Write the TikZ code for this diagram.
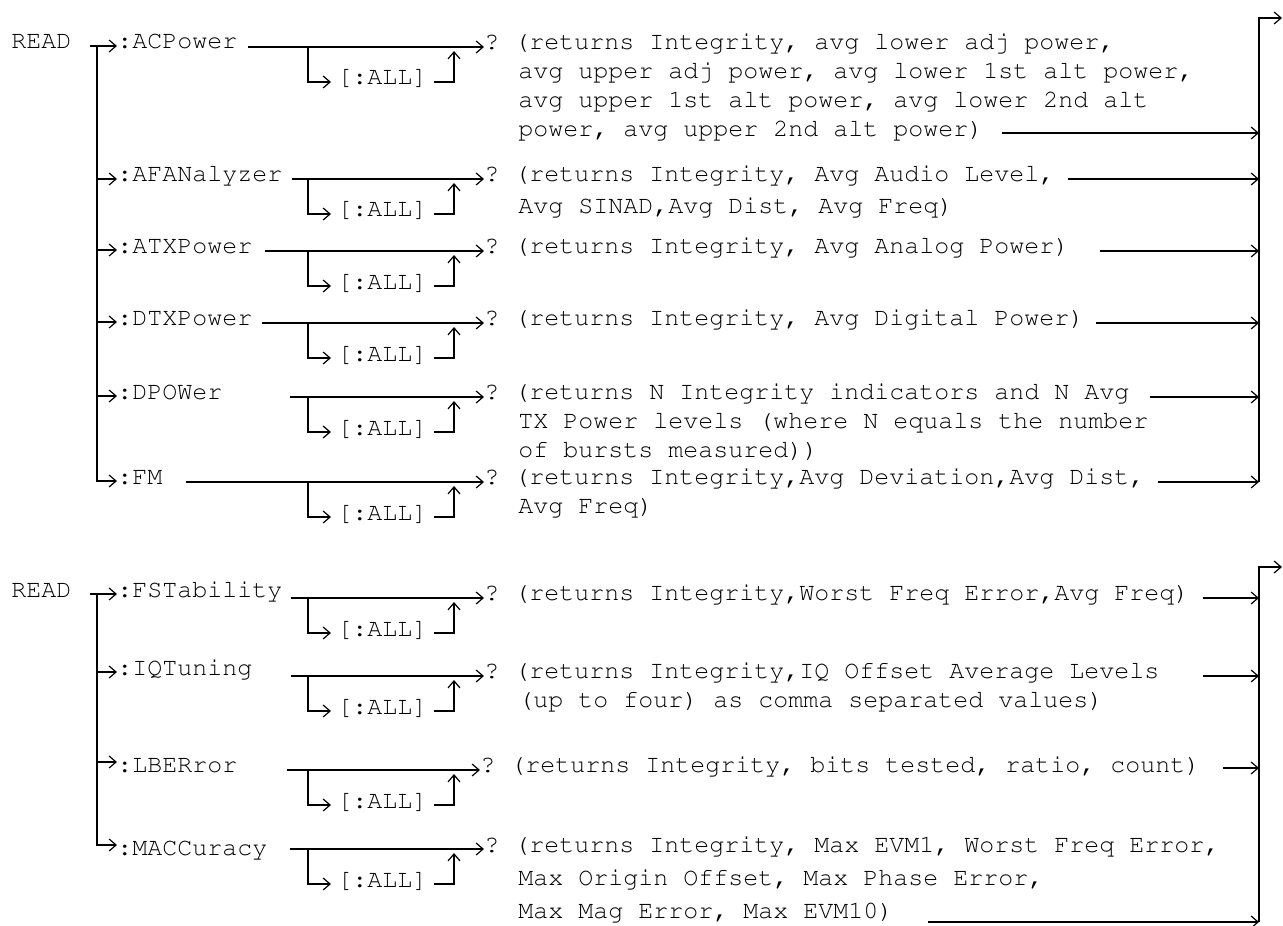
\documentclass[tikz,border=0pt]{standalone}
\usepackage[T1]{fontenc}
\renewcommand{\ttdefault}{pcr}
\usetikzlibrary{arrows.meta,calc}
\newcommand{\cmdfont}{\ttfamily\fontsize{12.5pt}{14.5pt}\selectfont\frenchspacing}
\newcommand{\ind}{\hspace*{17pt}}
\tikzset{
  txt/.style={font=\cmdfont, inner sep=0pt, anchor=base west, text height=5pt, text depth=2pt},
  hi/.style={text height=12pt},
  opt/.style={txt, inner xsep=3pt},
  ret/.style={font=\cmdfont, inner sep=0pt, anchor=north west, align=left},
  ln/.style={line width=1pt},
  arr/.style={ln, -{Straight Barb[length=3.5pt,width=6pt,line width=0.6pt]}}}

\begin{document}
\begin{tikzpicture}[x=0.5pt, y=-0.5pt]
  \useasboundingbox (0,0) rectangle (1283,925);
  \coordinate (tr) at (97,0);
  % upper diagram
  \node[txt] (r1) at (11,49) {READ};
  \node[txt] (c1) at (117,49) {:ACPower};
  \node[txt] (c2) at (117,182) {:AFANalyzer};
  \node[txt] (c3) at (117,253) {:ATXPower};
  \node[txt] (c4) at (117,325) {:DTXPower};
  \node[txt] (c5) at (117,399) {:DPOWer};
  \node[txt] (c6) at (117,484) {:FM};
  \node[ret] (q1) at (484,29) {\strut? (returns Integrity, avg lower adj power,\\
    \ind avg upper adj power, avg lower 1st alt power,\\
    \ind avg upper 1st alt power, avg lower 2nd alt\\
    \ind power, avg upper 2nd alt power)};
  \node[ret] (q2) at (484,161) {\strut? (returns Integrity, Avg Audio Level,\\[1.5pt]
    \ind Avg SINAD,Avg Dist, Avg Freq)};
  \node[ret] (q3) at (484,233) {\strut? (returns Integrity, Avg Analog Power)};
  \node[ret] (q4) at (484,305) {\strut? (returns Integrity, Avg Digital Power)};
  \node[ret] (q5) at (484,379) {\strut? (returns N Integrity indicators and N Avg\\
    \ind TX Power levels (where N equals the number\\
    \ind of bursts measured))};
  \node[ret] (q6) at (484,464) {\strut? (returns Integrity,Avg Deviation,Avg Dist,\\
    \ind Avg Freq)};
  \coordinate (rt1) at (1259,18);
  \coordinate (o1) at (1282,18);
  % lower diagram
  \node[txt] (r2) at (11,597) {READ};
  \node[txt] (c7) at (117,597) {:FSTability};
  \node[txt] (c8) at (117,675) {:IQTuning};
  \node[txt,hi] (c9) at (117,772) {:LBERror};
  \node[txt,hi] (c10) at (117,855) {:MACCuracy};
  \node[ret] (q7) at (484,580) {\strut? (returns Integrity,Worst Freq Error,Avg Freq)};
  \node[ret] (q8) at (484,658) {\strut? (returns Integrity,IQ Offset Average Levels\\
    \ind (up to four) as comma separated values)};
  \node[ret] (q9) at (480,752) {\strut? (returns Integrity, bits tested, ratio, count)};
  \node[ret] (q10) at (484,832) {\strut? (returns Integrity, Max EVM1, Worst Freq Error,\\[2pt]
    \ind Max Origin Offset, Max Phase Error,\\[2pt]
    \ind Max Mag Error, Max EVM10)};
  \coordinate (rt2) at (1259,567);
  \coordinate (o2) at (1282,567);
  % trunks on the left
  \draw[arr] ([xshift=9pt]r1.east) -- (c1.west);
  \draw[arr] (tr |- c1.west) |- (c6.west);
  \foreach \n in {2,...,5} \draw[arr] (tr |- c\n.west) -- (c\n.west);
  \draw[arr] ([xshift=9pt]r2.east) -- (c7.west);
  \draw[arr] (tr |- c7.west) |- (c10.west);
  \foreach \n in {8,9} \draw[arr] (tr |- c\n.west) -- (c\n.west);
  % keyword, optional [:ALL], query
  \foreach \n/\m/\s in {1/47/248, 2/179/292, 3/251/265, 4/323/262, 5/397/290, 6/482/186,
                        7/598/291, 8/676/291, 9/770/287, 10/849/290} {
    \coordinate (s\n) at (\s,\m);
    \coordinate (b\n) at (308,\m);
    \coordinate (u\n) at (454,\m+4);
    \node[opt] (a\n) at (331,\m+38) {[:ALL]};
    \draw[arr] (s\n) -- (s\n -| q\n.west);
    \draw[arr] (b\n) |- (a\n.west);
    \draw[arr] (a\n.east) -| (u\n);
  }
  % returns into the right trunks
  \foreach \n/\x/\y in {1/1002/133, 2/1068/179, 3/1100/251, 4/1096/323, 5/1150/397, 6/1158/482} {
    \coordinate (e\n) at (\x,\y);
    \draw[arr] (e\n) -- (e\n -| rt1);
  }
  \foreach \n/\x/\y in {7/1203/598, 8/1203/676, 9/1223/768, 10/928/922} {
    \coordinate (e\n) at (\x,\y);
    \draw[arr] (e\n) -- (e\n -| rt2);
  }
  \draw[arr] (e6 -| rt1) -- (rt1) -- (o1);
  \draw[arr] (e10 -| rt2) -- (rt2) -- (o2);
\end{tikzpicture}
\end{document}
